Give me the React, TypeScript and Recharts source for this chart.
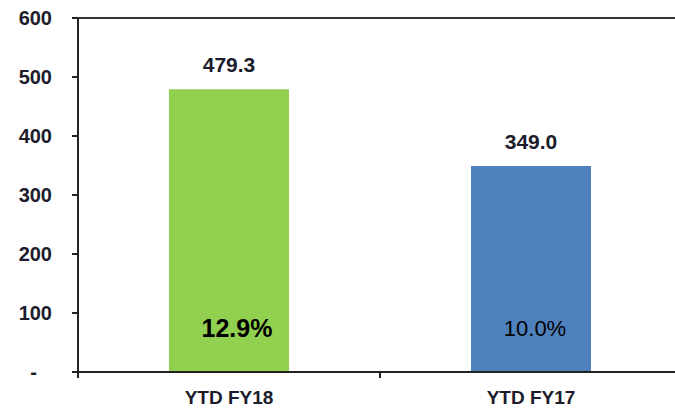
import { BarChart, Bar, Cell, XAxis, YAxis, ReferenceLine, LabelList } from 'recharts'

const categories = ['YTD FY18', 'YTD FY17']
const sales = [479.3, 349.0]
const growth = ['12.9%', '10.0%']
const growthBold = [true, false]
const yTicks = [0, 100, 200, 300, 400, 500, 600]

const COLORS = ['#92D050', '#4F81BD']

const data = categories.map((name, i) => ({ name, value: sales[i], growth: growth[i], bold: growthBold[i] }))

const W = 682
const H = 411
const LEFT = 78
const HALF_BAND = (W - LEFT) / (categories.length * 2)
const FONT = '"Liberation Sans", Arial, sans-serif'

const YTick = (props: any) => {
  const { x, y, payload } = props
  const isZero = payload.value === 0
  return (
    <text x={isZero ? x - 15 : x} y={y} dy="0.36em" textAnchor="end" fontFamily={FONT} fontSize={20} fontWeight="bold" fill="#1c1c2c">
      {isZero ? '-' : payload.value}
    </text>
  )
}

const XTick = (props: any) => {
  const { x, y, payload } = props
  const base = y - 10
  return (
    <g>
      <line x1={x - HALF_BAND} x2={x - HALF_BAND} y1={base - 6} y2={base} stroke="#222" strokeWidth={2} />
      <text x={x} y={y} dy="0.85em" textAnchor="middle" fontFamily={FONT} fontSize={19} fontWeight="bold" fill="#1c1c2c">
        {payload.value}
      </text>
    </g>
  )
}

const GrowthLabel = (props: any) => {
  const { x, y, width, height, index } = props
  const bold = growthBold[index]
  return (
    <text x={x + width / 2 + (bold ? 8 : 4)} y={y + height - 44} dy="0.36em" textAnchor="middle" fontFamily={FONT}
      fontSize={bold ? 25 : 22} fontWeight={bold ? 'bold' : 'normal'} fill="#000">
      {growth[index]}
    </text>
  )
}

const App = () => {
  return (
    <div style={{ width: 675, height: 411, overflow: 'hidden' }}>
      <style>{'body{margin:0;overflow:hidden}'}</style>
      <BarChart width={W} height={H} data={data} margin={{ top: 18, right: 0, bottom: 0, left: 0 }} barSize={120}>
        <XAxis dataKey="name" height={39} axisLine={{ stroke: '#222', strokeWidth: 2 }} tickLine={false} tickSize={6} tickMargin={10} tick={<XTick />} />
        <YAxis width={LEFT} domain={[0, 600]} ticks={yTicks} interval={0} axisLine={{ stroke: '#222', strokeWidth: 2 }}
          tickLine={{ stroke: '#222', strokeWidth: 2 }} tickSize={6} tickMargin={20} tick={<YTick />} />
        <ReferenceLine y={600} stroke="#333" strokeWidth={2} />
        <Bar dataKey="value" isAnimationActive={false}>
          {data.map((entry, index) => (
            <Cell key={`cell-${index}`} fill={COLORS[index % COLORS.length]} />
          ))}
          <LabelList dataKey="value" position="top" offset={17} formatter={(v: any) => Number(v).toFixed(1)}
            style={{ fontFamily: FONT, fontSize: 21, fontWeight: 'bold', fill: '#1c1c2c' }} />
          <LabelList dataKey="growth" content={<GrowthLabel />} />
        </Bar>
      </BarChart>
    </div>
  )
}

export default App
